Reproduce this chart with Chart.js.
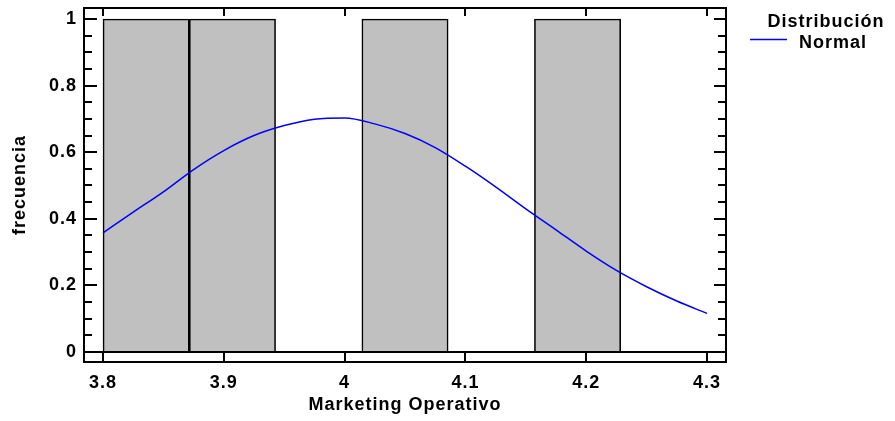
<!DOCTYPE html>
<html>
<head>
<meta charset="utf-8">
<script src="https://cdn.jsdelivr.net/npm/chart.js@4.4.1/dist/chart.umd.min.js"></script>
<style>
  html, body { margin: 0; padding: 0; background: #fff; }
  #wrap { width: 895px; height: 421px; position: relative; }
</style>
</head>
<body>
<div id="wrap"><canvas id="c" width="895" height="421"></canvas></div>
<script>
// ---- data ----
const binEdges = [3.8, 3.87143, 3.94286, 4.01429, 4.08571, 4.15714, 4.22857, 4.3];
const binCounts = [1, 1, 0, 1, 0, 1, 0];

const curveX = [3.800, 3.825, 3.850, 3.875, 3.900, 3.925, 3.950, 3.975, 4.000, 4.025, 4.050,
                4.075, 4.100, 4.125, 4.150, 4.175, 4.200, 4.225, 4.250, 4.275, 4.300];
const curveY = [0.358, 0.420, 0.481, 0.548, 0.605, 0.650, 0.680, 0.699, 0.703, 0.685, 0.656,
                0.614, 0.558, 0.496, 0.430, 0.367, 0.303, 0.245, 0.196, 0.153, 0.116];

const xTickValues = [3.8, 3.9, 4.0, 4.1, 4.2, 4.3];
const xTickLabels = ['3.8', '3.9', '4', '4.1', '4.2', '4.3'];
const yTickValues = [0, 0.2, 0.4, 0.6, 0.8, 1];
const yTickLabels = ['0', '0.2', '0.4', '0.6', '0.8', '1'];
const yMinorStep = 0.05;

const xTitle = 'Marketing Operativo';
const yTitle = 'frecuencia';
const legendTitle = 'Distribución';
const legendLabel = 'Normal';

// ---- styling ----
const FONT_FAMILY = "'Liberation Sans', Arial, Helvetica, sans-serif";
const boldFont = { family: FONT_FAMILY, size: 18, weight: 'bold', lineHeight: 1.2 };

const barData = binCounts.map((c, i) => ({ x: (binEdges[i] + binEdges[i + 1]) / 2, y: c }));
const lineData = curveX.map((x, i) => ({ x: x, y: curveY[i] }));

const spacingPlugin = {
  id: 'spacing',
  beforeUpdate(chart) { chart.ctx.letterSpacing = '1px'; },
  beforeLayout(chart) { chart.ctx.letterSpacing = '1px'; },
  beforeDraw(chart) { chart.ctx.letterSpacing = '1px'; }
};

const framePlugin = {
  id: 'frame',
  afterDraw(chart) {
    const ctx = chart.ctx;
    const a = chart.chartArea;
    const xs = chart.scales.x, ys = chart.scales.y;
    ctx.save();
    ctx.strokeStyle = '#000';
    ctx.lineCap = 'butt';
    // baseline at y = 0
    ctx.lineWidth = 2;
    const y0 = ys.getPixelForValue(0);
    ctx.beginPath();
    ctx.moveTo(a.left, y0); ctx.lineTo(a.right, y0);
    ctx.stroke();
    // x ticks (inside, top and bottom)
    ctx.lineWidth = 2;
    xTickValues.forEach(v => {
      const px = Math.round(xs.getPixelForValue(v));
      ctx.beginPath();
      ctx.moveTo(px, a.top); ctx.lineTo(px, a.top + 8);
      ctx.moveTo(px, a.bottom); ctx.lineTo(px, a.bottom - 9);
      ctx.stroke();
    });
    // y ticks: minor and major, left and right, pointing inside
    const nMinor = Math.round(1 / yMinorStep);
    for (let k = 0; k <= nMinor; k++) {
      const v = k * yMinorStep;
      const major = k % 4 === 0;
      const py = Math.round(ys.getPixelForValue(v));
      ctx.beginPath();
      ctx.moveTo(a.left, py); ctx.lineTo(a.left + (major ? 13 : 8), py);
      ctx.moveTo(a.right, py); ctx.lineTo(a.right - (major ? 12 : 8), py);
      ctx.stroke();
    }
    // frame
    ctx.lineWidth = 2;
    ctx.strokeRect(a.left, a.top, a.right - a.left, a.bottom - a.top);

    // legend
    ctx.letterSpacing = '1px';
    ctx.fillStyle = '#000';
    ctx.font = 'bold 18px ' + FONT_FAMILY;
    ctx.textBaseline = 'middle';
    ctx.textAlign = 'center';
    ctx.fillText(legendTitle, 826, 22);
    ctx.textAlign = 'left';
    ctx.fillText(legendLabel, 799, 43);
    ctx.strokeStyle = '#0000ff';
    ctx.lineWidth = 1.5;
    ctx.beginPath();
    ctx.moveTo(750, 39.5); ctx.lineTo(787, 39.5);
    ctx.stroke();
    ctx.restore();
  }
};

new Chart(document.getElementById('c'), {
  type: 'bar',
  data: {
    datasets: [
      {
        type: 'line',
        label: legendLabel,
        data: lineData,
        borderColor: '#0000ff',
        borderWidth: 1.5,
        pointRadius: 0,
        tension: 0.4,
        cubicInterpolationMode: 'monotone',
        fill: false,
        order: 0
      },
      {
        type: 'bar',
        label: 'frecuencia',
        data: barData,
        backgroundColor: '#c0c0c0',
        borderColor: '#000000',
        borderWidth: 1.6,
        borderSkipped: 'start',
        barPercentage: 1,
        categoryPercentage: 1,
        order: 1
      }
    ]
  },
  options: {
    responsive: false,
    animation: false,
    devicePixelRatio: 1,
    layout: { padding: { top: 8, right: 169, left: 0, bottom: 0 } },
    plugins: {
      legend: { display: false },
      tooltip: { enabled: false }
    },
    scales: {
      x: {
        type: 'linear',
        offset: false,
        min: 3.78427,
        max: 4.31573,
        afterBuildTicks(s) { s.ticks = xTickValues.map(v => ({ value: v })); },
        afterFit(s) { s.height = 59; s.paddingLeft = 0; s.paddingRight = 0; },
        ticks: {
          callback: (v, i) => xTickLabels[i],
          font: boldFont, color: '#000', padding: 10,
          maxRotation: 0, autoSkip: false
        },
        grid: { display: false, drawTicks: false, offset: false },
        border: { display: false },
        title: { display: true, text: xTitle, font: boldFont, color: '#000', padding: { top: 0, bottom: 5 } }
      },
      y: {
        type: 'linear',
        min: -0.03003,
        max: 1.03303,
        afterBuildTicks(s) { s.ticks = yTickValues.map(v => ({ value: v })); },
        afterFit(s) { s.width = 84; s.paddingTop = 0; s.paddingBottom = 0; },
        ticks: {
          callback: (v, i) => yTickLabels[i],
          font: boldFont, color: '#000', padding: 7, autoSkip: false
        },
        grid: { display: false, drawTicks: false },
        border: { display: false },
        title: { display: true, text: yTitle, font: boldFont, color: '#000', padding: { top: 9, bottom: 0 } }
      }
    }
  },
  plugins: [spacingPlugin, framePlugin]
});
</script>
</body>
</html>
